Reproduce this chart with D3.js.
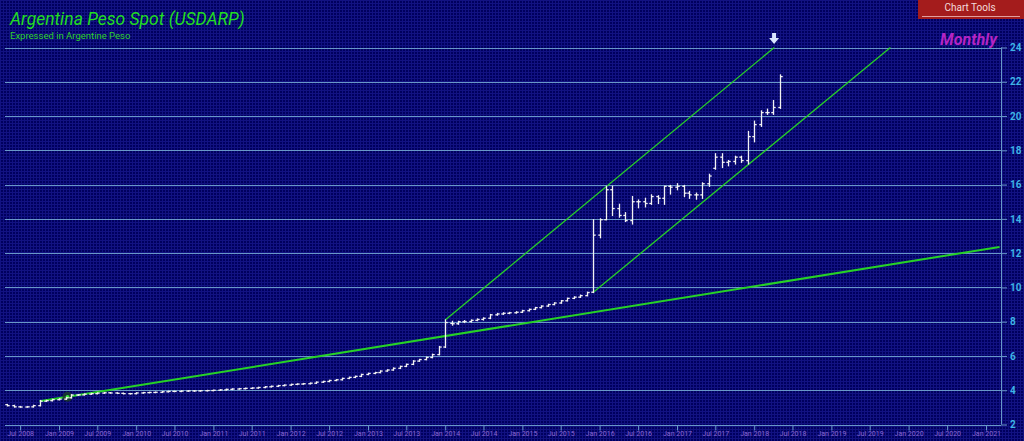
<!DOCTYPE html>
<html><head><meta charset="utf-8">
<script src="https://cdn.jsdelivr.net/npm/d3@7"></script>
<style>html,body{margin:0;padding:0;background:#00005c;overflow:hidden}</style>
</head><body>
<svg id="c" width="1024" height="441"></svg>
<script>
// ---- data ----
const months = [
"2008-05","2008-06","2008-07","2008-08","2008-09","2008-10","2008-11","2008-12",
"2009-01","2009-02","2009-03","2009-04","2009-05","2009-06","2009-07","2009-08","2009-09","2009-10","2009-11","2009-12",
"2010-01","2010-02","2010-03","2010-04","2010-05","2010-06","2010-07","2010-08","2010-09","2010-10","2010-11","2010-12",
"2011-01","2011-02","2011-03","2011-04","2011-05","2011-06","2011-07","2011-08","2011-09","2011-10","2011-11","2011-12",
"2012-01","2012-02","2012-03","2012-04","2012-05","2012-06","2012-07","2012-08","2012-09","2012-10","2012-11","2012-12",
"2013-01","2013-02","2013-03","2013-04","2013-05","2013-06","2013-07","2013-08","2013-09","2013-10","2013-11","2013-12",
"2014-01","2014-02","2014-03","2014-04","2014-05","2014-06","2014-07","2014-08","2014-09","2014-10","2014-11","2014-12",
"2015-01","2015-02","2015-03","2015-04","2015-05","2015-06","2015-07","2015-08","2015-09","2015-10","2015-11","2015-12",
"2016-01","2016-02","2016-03","2016-04","2016-05","2016-06","2016-07","2016-08","2016-09","2016-10","2016-11","2016-12",
"2017-01","2017-02","2017-03","2017-04","2017-05","2017-06","2017-07","2017-08","2017-09","2017-10","2017-11","2017-12",
"2018-01","2018-02","2018-03","2018-04","2018-05"];
const openV = [
3.16,3.10,3.03,3.02,3.03,3.10,3.36,3.39,
3.45,3.48,3.56,3.72,3.73,3.77,3.80,3.83,3.85,3.84,3.82,3.80,
3.80,3.84,3.86,3.87,3.88,3.91,3.93,3.93,3.95,3.96,3.96,3.97,
3.98,4.00,4.02,4.05,4.07,4.09,4.11,4.13,4.16,4.20,4.23,4.27,
4.30,4.34,4.36,4.38,4.41,4.47,4.51,4.57,4.61,4.69,4.75,4.81,
4.92,4.98,5.03,5.12,5.18,5.28,5.39,5.51,5.70,5.79,5.91,6.08,
6.52,7.90,7.88,8.00,8.01,8.08,8.13,8.20,8.40,8.45,8.49,8.52,
8.55,8.64,8.72,8.82,8.91,9.00,9.09,9.22,9.36,9.43,9.52,9.72,
13.05,13.95,15.70,14.60,14.20,13.90,15.00,15.00,14.90,15.30,15.20,15.90,
15.85,15.90,15.50,15.40,15.40,16.05,16.95,17.60,17.30,17.35,17.60,17.40,
18.80,19.50,20.20,20.20,20.50];
const highV = [
3.17,3.12,3.05,3.05,3.12,3.40,3.41,3.47,
3.50,3.58,3.74,3.74,3.78,3.82,3.84,3.86,3.86,3.85,3.83,3.81,
3.85,3.87,3.88,3.89,3.92,3.94,3.94,3.96,3.97,3.97,3.98,3.99,
4.00,4.03,4.06,4.08,4.10,4.12,4.14,4.17,4.21,4.24,4.28,4.31,
4.35,4.37,4.39,4.42,4.48,4.52,4.58,4.62,4.70,4.76,4.82,4.93,
4.99,5.04,5.13,5.19,5.30,5.40,5.52,5.72,5.80,5.93,6.10,6.55,
8.10,8.02,8.02,8.06,8.10,8.16,8.22,8.42,8.48,8.52,8.54,8.58,
8.66,8.73,8.83,8.92,9.01,9.10,9.23,9.37,9.45,9.55,9.72,13.95,
14.00,15.90,15.90,14.85,14.36,15.30,15.10,15.20,15.40,15.35,15.90,15.95,
16.05,15.95,15.60,15.50,16.10,16.60,17.80,17.80,17.40,17.65,17.65,19.10,
19.70,20.30,20.40,20.90,22.40];
const lowV = [
3.09,3.02,3.01,3.01,3.02,3.09,3.35,3.38,
3.44,3.47,3.55,3.70,3.72,3.76,3.79,3.82,3.83,3.81,3.79,3.78,
3.79,3.83,3.85,3.86,3.87,3.90,3.92,3.92,3.94,3.94,3.95,3.96,
3.97,3.99,4.01,4.04,4.06,4.08,4.10,4.12,4.15,4.19,4.22,4.26,
4.29,4.33,4.35,4.37,4.40,4.46,4.50,4.56,4.60,4.68,4.74,4.80,
4.91,4.97,5.02,5.11,5.17,5.27,5.38,5.50,5.69,5.78,5.90,6.07,
6.50,7.80,7.85,7.95,7.98,8.06,8.10,8.18,8.38,8.43,8.47,8.50,
8.54,8.63,8.71,8.81,8.90,8.99,9.08,9.21,9.35,9.42,9.51,9.70,
12.90,13.95,14.20,14.10,13.85,13.70,14.65,14.70,14.85,14.90,14.85,15.45,
15.70,15.30,15.20,15.15,15.20,15.90,16.90,17.00,17.10,17.20,17.30,17.20,
18.50,19.40,20.10,20.10,20.45];
const closeV = [
3.10,3.03,3.02,3.03,3.10,3.36,3.39,3.45,
3.48,3.56,3.72,3.73,3.77,3.80,3.83,3.85,3.84,3.82,3.80,3.80,
3.84,3.86,3.87,3.88,3.91,3.93,3.93,3.95,3.96,3.96,3.97,3.98,
4.00,4.02,4.05,4.07,4.09,4.11,4.13,4.16,4.20,4.23,4.27,4.30,
4.34,4.36,4.38,4.41,4.47,4.51,4.57,4.61,4.69,4.75,4.81,4.92,
4.98,5.03,5.12,5.18,5.28,5.39,5.51,5.70,5.79,5.91,6.08,6.52,
7.95,7.88,8.00,8.01,8.08,8.13,8.20,8.40,8.45,8.49,8.52,8.55,
8.64,8.72,8.82,8.91,9.00,9.09,9.22,9.36,9.43,9.52,9.70,13.05,
13.95,15.70,14.60,14.20,13.90,15.00,15.00,14.90,15.30,15.20,15.90,15.85,
15.90,15.50,15.40,15.40,16.05,16.50,17.60,17.30,17.35,17.60,17.40,18.80,
19.50,20.20,20.20,20.50,22.30];

const yTicks = [2,4,6,8,10,12,14,16,18,20,22,24];
const xTickDates = ["2008-07","2009-01","2009-07","2010-01","2010-07","2011-01","2011-07","2012-01","2012-07","2013-01","2013-07","2014-01","2014-07","2015-01","2015-07","2016-01","2016-07","2017-01","2017-07","2018-01","2018-07","2019-01","2019-07","2020-01","2020-07","2021-01"];

// trend lines: [startDate, startValue, endDate, endValue]
const trendLong  = ["2008-10-01", 3.36, "2021-03-06", 12.36];
const chanUpper  = ["2014-01-01", 8.10, "2018-04-06", 24.0];
const chanLower  = ["2015-12-01", 9.70, "2019-10-07", 24.0];
const markerPt   = ["2009-02-10"];
const arrowDate  = "2018-04-05";

// ---- drawing ----
const parse = d3.timeParse("%Y-%m");
const parseD = d3.timeParse("%Y-%m-%d");
const svg = d3.select("#c");
const W = 1024, H = 441;

const defs = svg.append("defs");
const pat = defs.append("pattern").attr("id","mesh").attr("width",3).attr("height",3).attr("patternUnits","userSpaceOnUse");
pat.append("rect").attr("width",3).attr("height",3).attr("fill","#00005e");
pat.append("rect").attr("width",3).attr("height",1).attr("fill","#121282");
pat.append("rect").attr("width",1).attr("height",3).attr("fill","#121282");
svg.append("rect").attr("width",W).attr("height",H).attr("fill","url(#mesh)");

const x = d3.scaleTime().domain([parse("2009-01"), parse("2021-01")]).range([59, 986]);
const y = d3.scaleLinear().domain([2, 24]).range([424.5, 47.5]);
const plotL = 5, plotR = 1001;

// horizontal grid lines
svg.append("g").selectAll("line").data(yTicks).join("line")
  .attr("x1", plotL).attr("x2", plotR)
  .attr("y1", d=>Math.round(y(d))+0.5).attr("y2", d=>Math.round(y(d))+0.5)
  .attr("stroke", "#6897c8").attr("stroke-width", 1);

// right axis
const yAxis = d3.axisRight(y).tickValues(yTicks).tickSize(6).tickPadding(3);
const gy = svg.append("g").attr("transform", `translate(${plotR},0)`).call(yAxis);
gy.select(".domain").attr("stroke","#6897c8").attr("d", `M0.5,${y(24)}V${y(2)}`);
gy.selectAll(".tick line").attr("stroke","#6897c8");
gy.selectAll(".tick text").attr("fill","#3fb4e6").attr("font-family","Roboto, sans-serif")
  .attr("font-size","10px").attr("font-weight","bold");

// bottom axis
const xAxis = d3.axisBottom(x).tickValues(xTickDates.map(parse)).tickSize(5).tickPadding(1)
  .tickFormat(d3.timeFormat("%b %Y"));
const gx = svg.append("g").attr("transform", `translate(0,${Math.round(y(2))+0.5})`).call(xAxis);
gx.select(".domain").remove();
gx.selectAll(".tick line").attr("stroke","#6897c8");
gx.selectAll(".tick text").attr("fill","#8a66d0").attr("font-family","Roboto, sans-serif").attr("font-size","7px");

// trend lines
function tline(def, w){
  svg.append("line")
    .attr("x1", x(parseD(def[0]))).attr("y1", y(def[1]))
    .attr("x2", x(parseD(def[2]))).attr("y2", y(def[3]))
    .attr("stroke","#27d127").attr("stroke-width", w);
}
tline(trendLong, 2);
tline(chanUpper, 1.3);
tline(chanLower, 1.3);

// marker
const mx = x(parseD(markerPt[0]));
const tl0 = x(parseD(trendLong[0])), tl1 = x(parseD(trendLong[2]));
const my = y(trendLong[1] + (trendLong[3]-trendLong[1])*(mx-tl0)/(tl1-tl0));
svg.append("circle").attr("cx",mx).attr("cy",my).attr("r",5).attr("fill","#1c3a2c").attr("opacity",0.85);
svg.append("circle").attr("cx",mx).attr("cy",my).attr("r",1.8).attr("fill","#33ee33");

// OHLC bars
const bars = months.map((m,i)=>({d:parse(m), o:openV[i], h:highV[i], l:lowV[i], c:closeV[i]}));
const g = svg.append("g").attr("stroke","#f2f2f2").attr("stroke-width",1.3);
bars.forEach(b=>{
  const cx = Math.round(x(b.d)) + 0.5;
  g.append("line").attr("x1",cx).attr("x2",cx).attr("y1",y(b.h)-0.6).attr("y2",y(b.l)+0.6);
  g.append("line").attr("x1",cx-2.2).attr("x2",cx).attr("y1",y(b.o)).attr("y2",y(b.o));
  g.append("line").attr("x1",cx).attr("x2",cx+2.2).attr("y1",y(b.c)).attr("y2",y(b.c));
});

// arrow marker
const ax = x(parseD(arrowDate));
svg.append("path")
  .attr("d", `M${ax-2},33 h4 v5 h3 l-5,6 l-5,-6 h3 z`)
  .attr("fill","#d8e4ff");

// titles
svg.append("text").attr("x",10).attr("y",25).text("Argentina Peso Spot (USDARP)")
  .attr("fill","#22dd22").attr("font-family","Roboto, sans-serif").attr("font-style","italic").attr("font-size","17.5px");
svg.append("text").attr("x",10).attr("y",39).text("Expressed in Argentine Peso")
  .attr("fill","#2fd02f").attr("font-family","Roboto, sans-serif").attr("font-size","9.5px");
svg.append("text").attr("x",997).attr("y",45).attr("text-anchor","end").text("Monthly")
  .attr("fill","#b424c4").attr("font-family","Roboto, sans-serif").attr("font-style","italic").attr("font-weight","bold").attr("font-size","16px");

// Chart Tools button
svg.append("rect").attr("x",918).attr("y",0).attr("width",106).attr("height",19).attr("fill","#a41c1c");
svg.append("line").attr("x1",922).attr("x2",1020).attr("y1",16.5).attr("y2",16.5).attr("stroke","#e0a0a0").attr("stroke-width",1);
svg.append("text").attr("x",970).attr("y",11).attr("text-anchor","middle").text("Chart Tools")
  .attr("fill","#f2dcdc").attr("font-family","Roboto, sans-serif").attr("font-size","10px");
</script>
</body></html>
